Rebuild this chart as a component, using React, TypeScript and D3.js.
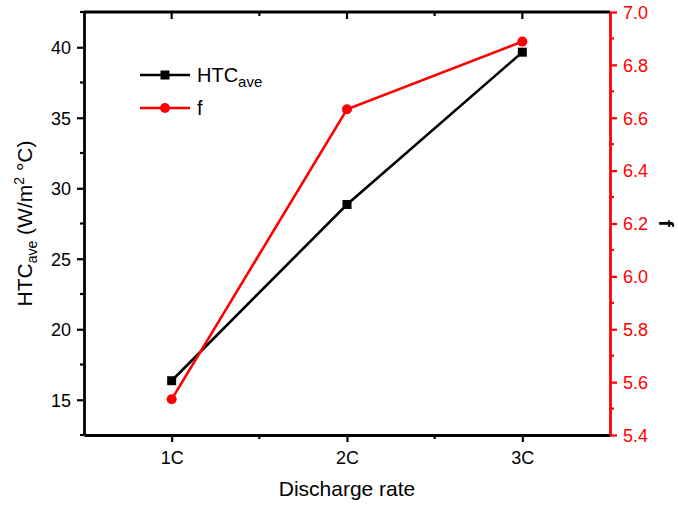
import React, { useEffect, useRef } from "react";
import * as d3 from "d3";

const categories = ["1C", "2C", "3C"];
const htcValues = [16.35, 28.85, 39.65];
const fValues = [5.535, 6.632, 6.888];
const leftTicks = [15, 20, 25, 30, 35, 40];
const rightTicks = [5.4, 5.6, 5.8, 6.0, 6.2, 6.4, 6.6, 6.8, 7.0];

const W = 678;
const H = 506;
const m = { left: 84, right: 68, top: 12, bottom: 71 };
const font = "'Liberation Sans', Arial, sans-serif";
const AX = 2.8;

const App = () => {
  const svgRef = useRef<SVGSVGElement | null>(null);

  useEffect(() => {
    const svg = d3.select(svgRef.current);
    svg.selectAll("*").remove();

    const x = d3.scaleLinear().domain([0.5, 3.5]).range([m.left, W - m.right]);
    const yL = d3.scaleLinear().domain([12.5, 42.5]).range([H - m.bottom, m.top]);
    const yR = d3.scaleLinear().domain([5.4, 7.0]).range([H - m.bottom, m.top]);
    const x0 = m.left, x1 = W - m.right, y0 = H - m.bottom, y1 = m.top;

    // frame (top)
    svg.append("line").attr("x1", x0).attr("x2", x1).attr("y1", y1).attr("y2", y1)
      .attr("stroke", "#000").attr("stroke-width", AX);

    // top ticks (inward)
    [1, 1.5, 2, 2.5, 3].forEach((v) => {
      svg.append("line").attr("x1", x(v)).attr("x2", x(v)).attr("y1", y1)
        .attr("y2", y1 + (Number.isInteger(v) ? 7 : 4))
        .attr("stroke", "#000").attr("stroke-width", 2.2);
    });

    // bottom axis
    const xAxis = d3.axisBottom(x).tickValues([1, 2, 3]).tickSize(7)
      .tickFormat((d) => categories[(d as number) - 1]).tickSizeOuter(0);
    const gx = svg.append("g").attr("transform", `translate(0,${y0})`).call(xAxis);
    gx.select(".domain").attr("stroke-width", AX);
    gx.selectAll(".tick line").attr("stroke-width", 2.2);
    gx.selectAll("text").attr("font-family", font).attr("font-size", 18).attr("y", 29).attr("dy", 0);
    [1.5, 2.5].forEach((v) => {
      svg.append("line").attr("x1", x(v)).attr("x2", x(v)).attr("y1", y0).attr("y2", y0 + 4)
        .attr("stroke", "#000").attr("stroke-width", 2.2);
    });

    // left axis
    const yAxisL = d3.axisLeft(yL).tickValues(leftTicks).tickSize(7).tickSizeOuter(0);
    const gl = svg.append("g").attr("transform", `translate(${x0},0)`).call(yAxisL);
    gl.select(".domain").attr("stroke-width", AX);
    gl.selectAll(".tick line").attr("stroke-width", 2.2);
    gl.selectAll("text").attr("font-family", font).attr("font-size", 18).attr("x", -13).attr("dy", "0.35em");
    d3.range(12.5, 42.6, 5).forEach((v) => {
      svg.append("line").attr("x1", x0).attr("x2", x0 - 4).attr("y1", yL(v)).attr("y2", yL(v))
        .attr("stroke", "#000").attr("stroke-width", 2.2);
    });

    // right axis
    const yAxisR = d3.axisRight(yR).tickValues(rightTicks).tickSize(7).tickSizeOuter(0)
      .tickFormat(d3.format(".1f"));
    const gr = svg.append("g").attr("transform", `translate(${x1},0)`).call(yAxisR);
    gr.select(".domain").attr("stroke", "#ff0000").attr("stroke-width", AX);
    gr.selectAll(".tick line").attr("stroke", "#ff0000").attr("stroke-width", 2.2);
    gr.selectAll("text").attr("font-family", font).attr("font-size", 18).attr("fill", "#ff0000")
      .attr("x", 13).attr("dy", "0.35em");
    d3.range(5.5, 7.0, 0.2).forEach((v) => {
      svg.append("line").attr("x1", x1).attr("x2", x1 + 4).attr("y1", yR(v)).attr("y2", yR(v))
        .attr("stroke", "#ff0000").attr("stroke-width", 2.2);
    });

    // axis titles
    svg.append("text").attr("x", (x0 + x1) / 2).attr("y", 496).attr("text-anchor", "middle")
      .attr("font-family", font).attr("font-size", 21).text("Discharge rate");

    const lt = svg.append("text").attr("transform", `translate(32,${(y0 + y1) / 2}) rotate(-90)`)
      .attr("text-anchor", "middle").attr("font-family", font).attr("font-size", 21);
    lt.append("tspan").text("HTC");
    lt.append("tspan").attr("font-size", 14).attr("dy", 5).text("ave");
    lt.append("tspan").attr("dy", -5).text(" (W/m");
    lt.append("tspan").attr("font-size", 14).attr("dy", -8).text("2");
    lt.append("tspan").attr("dy", 8).text(" \u00B0C)");

    svg.append("text").attr("transform", `translate(659,${(y0 + y1) / 2}) rotate(90)`)
      .attr("text-anchor", "middle").attr("font-family", font).attr("font-size", 21)
      .attr("font-weight", "bold").text("f");

    // series
    const idx = [1, 2, 3];
    const lineL = d3.line<number>().x((_, i) => x(idx[i])).y((d) => yL(d));
    const lineR = d3.line<number>().x((_, i) => x(idx[i])).y((d) => yR(d));

    svg.append("path").attr("d", lineL(htcValues)).attr("fill", "none")
      .attr("stroke", "#000").attr("stroke-width", 2.6);
    svg.selectAll(".sq").data(htcValues).enter().append("rect")
      .attr("x", (_, i) => x(idx[i]) - 4.5).attr("y", (d) => yL(d) - 4.5)
      .attr("width", 9).attr("height", 9).attr("fill", "#000");

    svg.append("path").attr("d", lineR(fValues)).attr("fill", "none")
      .attr("stroke", "#ff0000").attr("stroke-width", 2.6);
    svg.selectAll(".ci").data(fValues).enter().append("circle")
      .attr("cx", (_, i) => x(idx[i])).attr("cy", (d) => yR(d)).attr("r", 5)
      .attr("fill", "#ff0000");

    // legend
    const lg = svg.append("g");
    lg.append("line").attr("x1", 140).attr("x2", 190).attr("y1", 75).attr("y2", 75)
      .attr("stroke", "#000").attr("stroke-width", 2.6);
    lg.append("rect").attr("x", 160.5).attr("y", 70.5).attr("width", 9).attr("height", 9).attr("fill", "#000");
    const t1 = lg.append("text").attr("x", 197).attr("y", 82).attr("font-family", font).attr("font-size", 20);
    t1.append("tspan").text("HTC");
    t1.append("tspan").attr("font-size", 15).attr("dy", 5).text("ave");

    lg.append("line").attr("x1", 140).attr("x2", 190).attr("y1", 108).attr("y2", 108)
      .attr("stroke", "#ff0000").attr("stroke-width", 2.6);
    lg.append("circle").attr("cx", 165).attr("cy", 108).attr("r", 5).attr("fill", "#ff0000");
    lg.append("text").attr("x", 197).attr("y", 115).attr("font-family", font).attr("font-size", 20).text("f");
  }, []);

  return (
    <svg ref={svgRef} width={W} height={H} style={{ position: "absolute", left: 0, top: 0, background: "#fff" }} />
  );
};

export default App;
